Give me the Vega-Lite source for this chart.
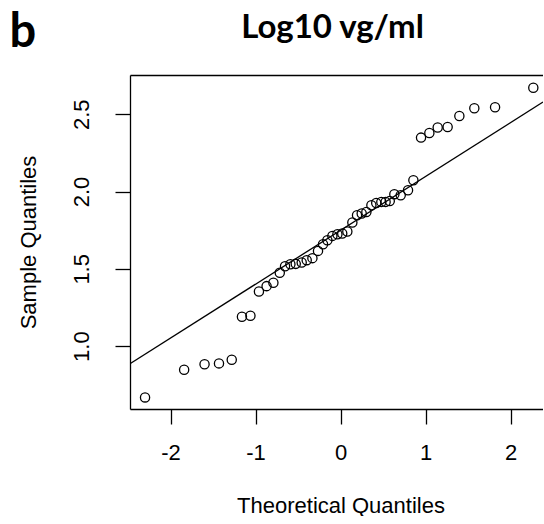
{
  "$schema": "https://vega.github.io/schema/vega-lite/v6.json",
  "width": 413,
  "height": 334,
  "autosize": {"type": "pad"},
  "padding": {"left": 9, "top": 9, "right": 0, "bottom": 0},
  "background": "white",
  "config": {"view": {"stroke": null}, "axis": {"grid": false}},
  "title": {"text": "b", "anchor": "start", "frame": "bounds", "font": "Lato", "fontSize": 47, "fontWeight": "bold", "color": "black", "offset": 0, "dy": 46, "dx": -8},
  "datasets": {
    "pts": [
      {"tq": -2.30, "sq": 0.668}, {"tq": -1.84, "sq": 0.847}, {"tq": -1.60, "sq": 0.882}, {"tq": -1.43, "sq": 0.888},
      {"tq": -1.28, "sq": 0.912}, {"tq": -1.16, "sq": 1.190}, {"tq": -1.06, "sq": 1.196}, {"tq": -0.96, "sq": 1.353},
      {"tq": -0.87, "sq": 1.388}, {"tq": -0.79, "sq": 1.410}, {"tq": -0.715, "sq": 1.474}, {"tq": -0.653, "sq": 1.517},
      {"tq": -0.59, "sq": 1.530}, {"tq": -0.527, "sq": 1.532}, {"tq": -0.457, "sq": 1.541}, {"tq": -0.398, "sq": 1.556},
      {"tq": -0.331, "sq": 1.569}, {"tq": -0.265, "sq": 1.616}, {"tq": -0.206, "sq": 1.659}, {"tq": -0.155, "sq": 1.685},
      {"tq": -0.096, "sq": 1.713}, {"tq": -0.037, "sq": 1.724}, {"tq": 0.02, "sq": 1.728}, {"tq": 0.08, "sq": 1.741},
      {"tq": 0.139, "sq": 1.800}, {"tq": 0.194, "sq": 1.847}, {"tq": 0.249, "sq": 1.858}, {"tq": 0.304, "sq": 1.868},
      {"tq": 0.363, "sq": 1.911}, {"tq": 0.42, "sq": 1.926}, {"tq": 0.48, "sq": 1.933}, {"tq": 0.53, "sq": 1.933},
      {"tq": 0.579, "sq": 1.939}, {"tq": 0.633, "sq": 1.983}, {"tq": 0.708, "sq": 1.976}, {"tq": 0.794, "sq": 2.008},
      {"tq": 0.857, "sq": 2.073}, {"tq": 0.947, "sq": 2.349}, {"tq": 1.045, "sq": 2.379}, {"tq": 1.143, "sq": 2.414},
      {"tq": 1.26, "sq": 2.418}, {"tq": 1.398, "sq": 2.489}, {"tq": 1.574, "sq": 2.539}, {"tq": 1.818, "sq": 2.545},
      {"tq": 2.268, "sq": 2.672}
    ],
    "ref": [
      {"tq": -2.477, "sq": 0.886},
      {"tq": 2.382, "sq": 2.579}
    ]
  },
  "layer": [
    {
      "data": {"name": "pts"},
      "mark": {"type": "point", "shape": "circle", "filled": false, "stroke": "black", "strokeWidth": 1.3, "size": 85, "opacity": 1},
      "encoding": {
        "x": {
          "field": "tq", "type": "quantitative",
          "scale": {"domain": [-2.477, 2.382], "nice": false, "zero": false},
          "axis": {
            "orient": "bottom", "values": [-2, -1, 0, 1, 2], "labelExpr": "'' + datum.value",
            "title": "Theoretical Quantiles", "titleFont": "Liberation Sans", "titleFontSize": 22, "titleFontWeight": "normal", "titleColor": "black",
            "labelFont": "Liberation Sans", "labelFontSize": 22, "labelColor": "black",
            "tickSize": 15, "tickColor": "black", "tickWidth": 1.3, "domainColor": "black", "domainWidth": 1.3,
            "labelPadding": 18, "titlePadding": 32, "titleX": 210.5
          }
        },
        "y": {
          "field": "sq", "type": "quantitative",
          "scale": {"domain": [0.593, 2.754], "nice": false, "zero": false},
          "axis": {
            "orient": "left", "values": [1.0, 1.5, 2.0, 2.5], "format": ".1f", "labelAngle": 270,
            "title": "Sample Quantiles", "titleFont": "Liberation Sans", "titleFontSize": 22, "titleFontWeight": "normal", "titleColor": "black",
            "labelFont": "Liberation Sans", "labelFontSize": 22, "labelColor": "black",
            "tickSize": 15, "tickColor": "black", "tickWidth": 1.3, "domainColor": "black", "domainWidth": 1.3,
            "labelPadding": 22, "titlePadding": 29.5
          }
        }
      }
    },
    {
      "data": {"name": "ref"},
      "mark": {"type": "line", "color": "black", "strokeWidth": 1.3, "clip": true},
      "encoding": {
        "x": {
          "field": "tq", "type": "quantitative",
          "scale": {"domain": [-2.477, 2.382], "nice": false, "zero": false},
          "axis": {
            "orient": "top", "ticks": false, "labels": false, "domain": true, "domainColor": "black", "domainWidth": 1.3,
            "title": "Log10 vg/ml", "titleFont": "Lato", "titleFontSize": 33, "titleFontWeight": "bold", "titleColor": "black",
            "titlePadding": 31, "titleX": 202
          }
        },
        "y": {"field": "sq", "type": "quantitative"}
      }
    }
  ],
  "resolve": {"axis": {"x": "independent"}}
}
